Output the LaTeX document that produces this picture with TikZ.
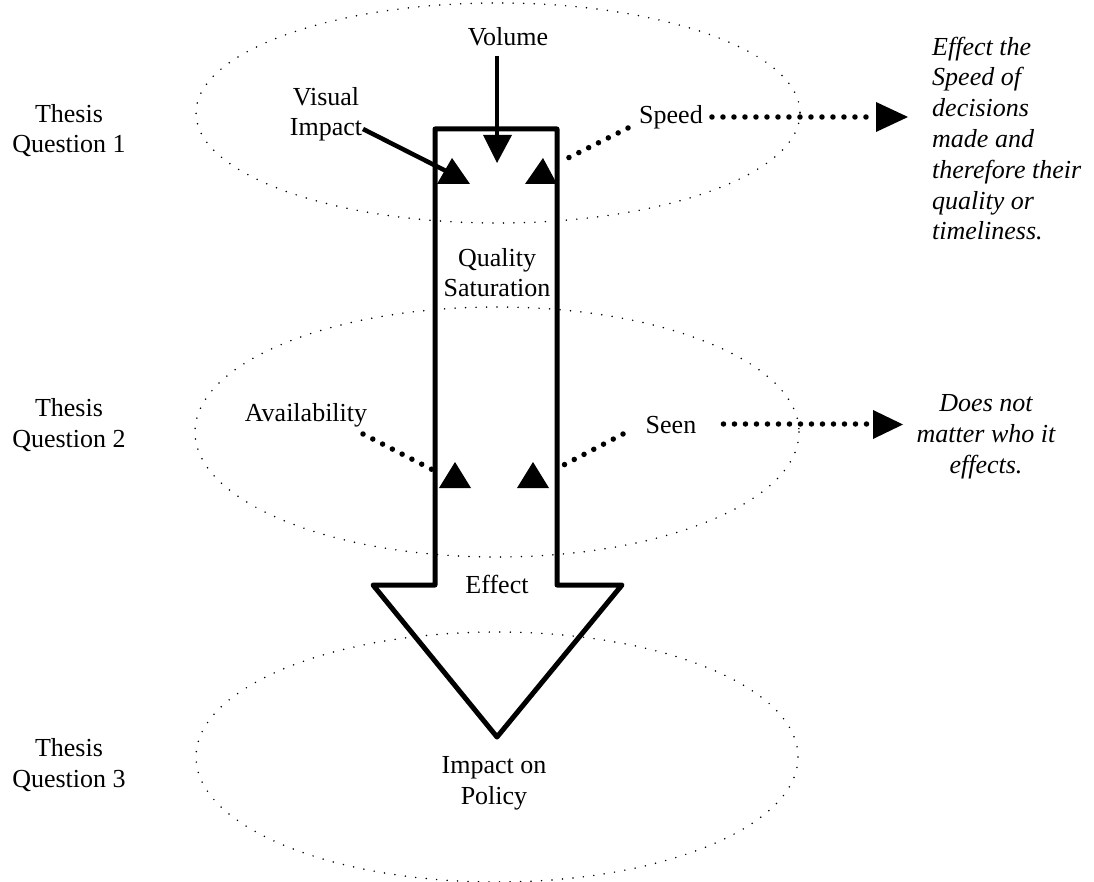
\documentclass[tikz,border=0pt]{standalone}
\usepackage{fontspec}
\setmainfont{Liberation Serif}
\begin{document}
\begin{tikzpicture}[x=1pt,y=-1pt,
  txt/.style={font=\fontsize{26}{30.8}\selectfont, inner sep=0pt, anchor=base},
  mtxt/.style={txt, align=center},
  itxt/.style={font=\fontsize{26}{30.8}\selectfont\itshape, inner sep=0pt},
  ring/.style={line width=1.7pt, dash pattern=on 0pt off 10.5pt, line cap=round},
  bigarrow/.style={line width=5pt, line join=round},
  link/.style={line width=4.5pt},
  dotlink/.style={line width=5.5pt, dash pattern=on 0pt off 11pt, line cap=round},
  head/.style={fill=black}
]
\useasboundingbox (0,0) rectangle (1094,882);
% dotted question ellipses
\draw[ring] (498,113) ellipse [x radius=302, y radius=110];
\draw[ring] (497,432) ellipse [x radius=302, y radius=125];
\draw[ring] (497,757) ellipse [x radius=301, y radius=125];
% big arrow
\draw[bigarrow] (435,129) -- (557,129) -- (557,585) -- (622,585) -- (497,737) -- (373,585) -- (435,585) -- cycle;
% labels (base anchor = baseline of the last line)
\node[mtxt] (tq1) at (69,153) {Thesis\\Question 1};
\node[mtxt] (tq2) at (69,447) {Thesis\\Question 2};
\node[mtxt] (tq3) at (69,787) {Thesis\\Question 3};
\node[txt] (vol) at (508,46) {Volume};
\node[mtxt] (vis) at (326,136) {Visual\\Impact};
\node[txt] (spd) at (671,124) {Speed};
\node[mtxt] (qs) at (497,297) {Quality\\Saturation};
\node[txt] (avl) at (306,421) {Availability};
\node[txt] (seen) at (671,433) {Seen};
\node[txt] (eff) at (497,593) {Effect};
\node[mtxt] (pol) at (494,804) {Impact on\\Policy};
\node[itxt, align=left, anchor=base west] (note1) at (932,240) {Effect the\\Speed of\\decisions\\made and\\therefore their\\quality or\\timeliness.};
\node[itxt, align=center, anchor=base] (note2) at (986,473) {Does not\\matter who it\\effects.};
% connector end points
\coordinate (volend) at (497,140);
\coordinate (visstart) at (363,129);
\coordinate (visend) at (448,172);
\coordinate (spdstart) at (628,128);
\coordinate (spdend) at (560,162);
\coordinate (spdtip) at (872,117);
\coordinate (avlstart) at (363,434);
\coordinate (avlend) at (433,470);
\coordinate (seenstart) at (623,434);
\coordinate (seenend) at (556,469);
\coordinate (seentip) at (868,424);
% solid connectors
\draw[link] (vol.south -| volend) [shorten <=9pt] -- (volend);
\draw[link] (visstart) -- (visend);
% dotted connectors
\draw[dotlink] (spdstart) -- (spdend);
\draw[dotlink] ([xshift=9pt]spd.east |- spdtip) -- (spdtip);
\draw[dotlink] (avlstart) -- (avlend);
\draw[dotlink] (seenstart) -- (seenend);
\draw[dotlink] ([xshift=27pt]seen.east |- seentip) -- (seentip);
% arrow heads
\fill[head] (483,135) -- (512,135) -- (497,163) -- cycle;
\fill[head] (452,158) -- (470,184) -- (437,184) -- cycle;
\fill[head] (543,158) -- (557,184) -- (525,184) -- cycle;
\fill[head] (876,102) -- (908,117) -- (876,132) -- cycle;
\fill[head] (455,462) -- (471,488) -- (439,488) -- cycle;
\fill[head] (533,462) -- (549,488) -- (517,488) -- cycle;
\fill[head] (873,410) -- (903,424.5) -- (873,439) -- cycle;
\end{tikzpicture}
\end{document}
